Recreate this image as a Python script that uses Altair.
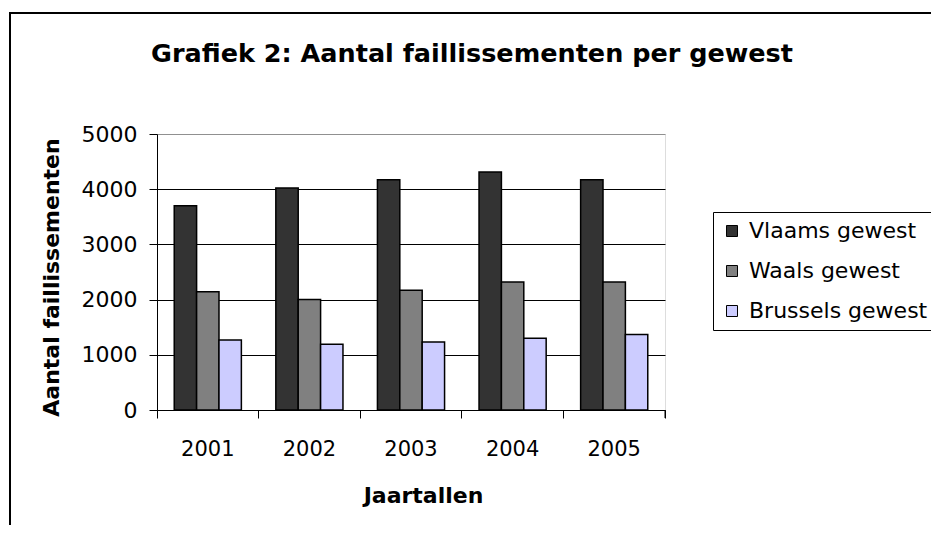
import altair as alt
import pandas as pd

years = ["2001", "2002", "2003", "2004", "2005"]
regions = ["Vlaams gewest", "Waals gewest", "Brussels gewest"]
vlaams = [3700, 4020, 4170, 4310, 4170]
waals = [2140, 2000, 2170, 2320, 2320]
brussels = [1270, 1190, 1230, 1300, 1370]
colors = ["#333333", "#808080", "#CCCCFF"]

rows = []
for i, y in enumerate(years):
    for r, vals in zip(regions, [vlaams, waals, brussels]):
        rows.append({"Jaar": y, "Gewest": r, "Aantal": vals[i]})
df = pd.DataFrame(rows)

FONT = "DejaVu Sans"
W, H = 508, 276

bars = alt.Chart(df).mark_bar(stroke="black", strokeWidth=1.5).encode(
    x=alt.X("Jaar:N", sort=years,
            scale=alt.Scale(paddingInner=0, paddingOuter=0),
            axis=alt.Axis(title="Jaartallen", labelAngle=0, bandPosition=1, tickExtra=True,
                          tickSize=8, tickColor="black", domainColor="black",
                          labelFontSize=21, labelFont=FONT, labelColor="black", labelPadding=20,
                          titleFont=FONT, titleFontSize=22, titleFontWeight="bold",
                          titleColor="black", titleX=266, titleY=75, grid=False)),
    xOffset=alt.XOffset("Gewest:N", sort=regions,
                        scale=alt.Scale(paddingInner=0, paddingOuter=0.77)),
    y=alt.Y("Aantal:Q", scale=alt.Scale(domain=[0, 5000]),
            axis=alt.Axis(title="Aantal faillissementen", values=[0, 1000, 2000, 3000, 4000, 5000],
                          format="d",
                          grid=True,
                          gridColor=alt.condition("datum.value == 5000", alt.value("#909090"), alt.value("black")),
                          gridOpacity=1, gridWidth=1,
                          tickSize=8, tickColor="black", domainColor="black",
                          labelFontSize=22, labelFont=FONT, labelColor="black", labelPadding=12,
                          titleFont=FONT, titleFontSize=22, titleFontWeight="bold",
                          titleColor="black", titleX=-94, titleY=143)),
    color=alt.Color("Gewest:N", sort=regions,
                    scale=alt.Scale(domain=regions, range=colors),
                    legend=alt.Legend(title=None, orient="none", legendX=556, legendY=78,
                                      strokeColor="black", fillColor="white", padding=8,
                                      symbolType="square", symbolSize=121, symbolStrokeColor="black",
                                      symbolStrokeWidth=1, symbolOpacity=1, labelOffset=6,
                                      labelFontSize=22, labelFont=FONT, labelColor="black",
                                      rowPadding=18, labelLimit=300)),
)

frame = pd.DataFrame([{"k": 0}])
border = alt.Chart(frame).mark_rule(color="black", strokeWidth=2)
left_border = border.encode(x=alt.value(-147), y=alt.value(-122), y2=alt.value(H + 120))
top_border = border.encode(x=alt.value(-148), x2=alt.value(W + 300), y=alt.value(-121))
right_tick = alt.Chart(frame).mark_rule(color="black", strokeWidth=1).encode(
    x=alt.value(W), y=alt.value(H), y2=alt.value(H + 8))

chart = alt.layer(bars, left_border, top_border, right_tick).properties(
    width=W, height=H,
    autosize=alt.AutoSizeParams(type="none"),
    padding={"left": 149, "top": 126, "right": 266, "bottom": 115},
    title=alt.Title("Grafiek 2: Aantal faillissementen per gewest", font=FONT, fontSize=25.5,
                    fontWeight="bold", color="black", anchor="middle", frame="group",
                    dx=61, offset=-76, baseline="alphabetic"),
).configure_view(fill="#C0C0C0", stroke="#909090", strokeWidth=1
).configure(background="white")

chart.save("out.html", embed_options={"renderer": "svg", "actions": False})
